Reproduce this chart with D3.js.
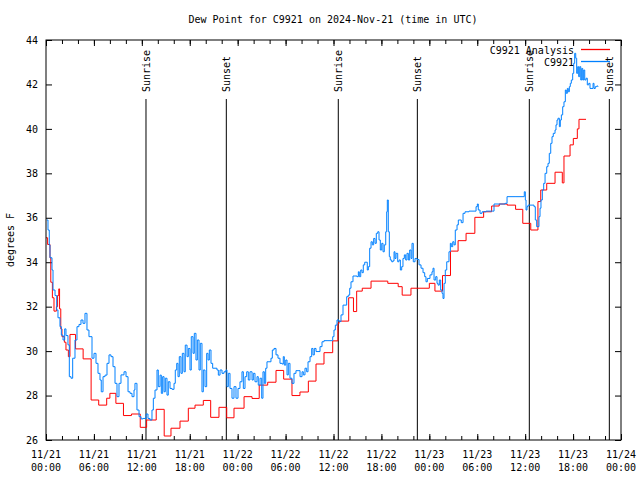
<!DOCTYPE html>
<html>
<head>
<meta charset="utf-8">
<script src="https://cdn.jsdelivr.net/npm/d3@7"></script>
<style>
  html, body { margin: 0; padding: 0; background: #fff; }
  svg { display: block; font-family: "DejaVu Sans Mono", "Liberation Mono", monospace; }
</style>
</head>
<body>
<svg id="chart" width="640" height="480"></svg>
<script>
// ---- data (hours since 2024-11-21 00:00 UTC, dew point °F) ----
const titleText = "Dew Point for C9921 on 2024-Nov-21 (time in UTC)";
const yTickValues = [26, 28, 30, 32, 34, 36, 38, 40, 42, 44];

const obsHours = [0.09,0.25,0.41,0.50,0.75,0.88,1.13,1.34,1.50,1.75,1.92,2.13,2.34,2.50,2.75,2.92,3.13,3.34,3.63,3.88,
4.13,4.38,4.63,4.88,5.13,5.38,5.76,6.01,6.26,6.51,6.76,6.92,7.14,7.39,7.64,7.89,8.14,8.39,8.64,8.89,
9.14,9.39,9.77,10.02,10.27,10.52,10.77,11.02,11.14,11.39,11.65,11.90,12.15,12.52,12.77,13.02,13.27,13.44,13.65,13.90,
14.06,14.28,14.44,14.61,14.78,14.94,15.15,15.31,15.53,15.78,16.03,16.19,16.37,16.53,16.69,16.90,17.07,17.28,17.44,17.66,
17.82,18.03,18.19,18.41,18.57,18.78,18.95,19.16,19.32,19.53,19.70,19.91,20.12,20.29,20.45,20.66,20.87,21.16,21.41,21.58,
21.79,22.04,22.29,22.54,22.66,22.83,23.04,23.29,23.54,23.79,24.04,24.29,24.54,24.71,24.92,25.13,25.33,25.54,25.80,25.96,
26.17,26.42,26.58,26.80,27.01,27.17,27.34,27.51,27.67,27.92,28.17,28.34,28.55,28.80,29.05,29.30,29.55,29.71,29.84,30.02,
30.18,30.34,30.55,30.80,31.05,31.30,31.56,31.81,32.06,32.22,32.43,32.64,32.81,33.06,33.27,33.43,33.60,33.81,34.06,34.31,
34.56,34.81,35.19,35.69,35.90,36.06,36.23,36.44,36.69,36.94,37.19,37.44,37.65,37.85,38.03,38.19,38.44,38.69,38.94,39.11,
39.23,39.41,39.57,39.73,39.91,40.07,40.23,40.36,40.53,40.70,40.86,41.03,41.20,41.36,41.54,41.70,41.86,42.04,42.20,42.36,
42.54,42.66,42.74,42.86,42.99,43.11,43.29,43.45,43.58,43.70,43.83,44.04,44.20,44.37,44.54,44.70,44.87,45.04,45.20,45.37,
45.54,45.71,45.83,45.99,46.21,46.46,46.71,46.96,47.21,47.42,47.58,47.75,48.08,48.33,48.46,48.59,48.80,48.96,49.09,49.25,
49.42,49.59,49.71,49.84,50.00,50.18,50.34,50.46,50.63,50.75,50.93,51.09,51.25,51.47,51.63,51.84,52.00,52.22,52.47,52.97,
53.60,53.85,54.01,54.13,54.35,54.60,55.10,55.94,56.10,57.23,57.48,57.73,58.73,59.73,59.89,60.02,60.11,60.23,60.36,60.61,
60.98,61.11,61.27,61.44,61.61,61.73,61.86,61.98,62.15,62.32,62.49,62.70,62.86,63.02,63.20,63.36,63.52,63.74,63.86,63.99,
64.11,64.28,64.40,64.53,64.70,64.86,65.03,65.15,65.28,65.40,65.53,65.65,65.78,65.95,66.08,66.20,66.33,66.45,66.58,66.70,
66.83,66.96,67.08,67.21,67.33,67.46,67.62,67.78,67.96,68.12,68.37,68.50,68.62,68.78,68.96,69.12];
const obsValues = [35.9,35.45,34.78,34.2,33.65,32.75,32.5,31.85,31.5,31.1,30.72,30.5,31.0,30.7,30.28,28.85,28.78,29.68,30.5,31.1,
31.2,31.4,31.25,31.7,30.95,30.65,29.68,29.9,29.45,29.0,28.7,28.17,28.85,28.92,29.45,29.83,29.75,29.3,28.55,27.95,
28.55,28.93,29.07,28.85,28.17,28.1,27.95,28.25,28.55,27.35,27.05,26.95,26.97,27.17,26.97,26.9,27.35,27.88,28.25,29.15,
28.4,28.92,28.1,28.85,28.17,28.78,28.02,28.62,28.32,28.28,28.55,29.15,29.45,28.85,29.75,29.0,29.9,29.07,30.27,29.75,
30.12,29.15,30.65,29.9,30.8,29.6,30.5,29.15,30.35,28.17,29.15,28.4,29.9,29.6,30.05,29.45,29.23,29.23,29.15,28.92,
29.15,29.0,29.07,29.15,28.4,29.0,28.32,27.88,28.4,27.88,28.32,28.62,29.07,28.32,28.85,29.07,28.7,29.07,28.7,29.0,
28.62,28.85,28.47,28.78,27.88,29.07,28.55,29.23,29.52,29.52,29.68,30.05,30.12,29.83,29.68,29.45,29.42,29.75,29.37,29.6,
28.93,29.45,28.78,28.55,29.0,29.12,29.12,28.85,29.07,28.93,29.23,29.07,29.52,29.75,30.12,29.83,30.12,29.98,29.98,30.2,
30.42,30.47,30.47,30.47,30.65,30.95,31.17,31.4,31.33,31.63,32.07,32.07,32.45,32.52,32.83,33.12,33.38,33.38,33.35,33.57,
33.35,33.65,33.53,33.88,34.0,34.0,33.65,33.8,34.63,34.92,34.78,35.07,34.85,35.3,35.37,35.0,34.55,34.85,34.47,34.78,
35.37,36.27,36.8,35.37,34.25,34.1,34.02,34.06,34.47,34.17,34.4,34.02,34.1,33.65,33.8,34.17,34.33,34.1,34.4,34.1,
34.55,34.17,34.85,34.02,34.17,34.12,33.88,33.73,33.53,33.35,33.12,33.27,33.43,33.57,33.73,33.2,33.35,33.05,32.97,33.2,
32.75,32.6,32.37,33.05,33.65,34.02,34.02,34.47,34.85,34.7,34.92,34.78,35.45,35.68,35.9,35.9,35.78,36.2,36.27,36.3,
36.3,36.5,36.62,36.35,36.2,36.27,36.3,36.3,36.62,36.62,36.65,36.95,36.95,36.95,37.17,36.8,36.35,36.5,36.57,36.57,
36.57,36.5,35.9,35.6,35.6,36.05,36.43,36.8,37.25,37.55,38.0,38.3,38.45,38.9,39.35,39.65,39.8,39.95,40.18,40.4,
40.48,40.1,40.4,40.63,41.0,41.22,41.75,41.6,41.82,41.67,41.9,42.05,42.2,42.5,42.95,43.4,43.18,42.5,42.8,42.35,
42.8,42.2,42.72,42.2,42.65,42.2,42.28,41.98,42.05,41.82,41.82,42.05,41.82,41.9,41.93,41.9];

const anaHours = [0.0,0.2,0.5,0.6,0.8,1.0,1.3,1.45,1.6,1.7,1.85,2.0,2.3,2.5,2.8,3.0,3.7,4.65,5.65,6.6,
7.6,8.0,8.75,9.7,10.7,11.8,12.6,13.8,14.8,15.65,16.78,17.82,18.66,19.7,20.62,21.66,22.63,23.54,24.8,25.8,
26.7,27.76,28.8,29.76,30.8,31.8,32.85,33.81,34.81,35.9,36.55,36.7,37.9,38.5,38.9,39.6,40.7,42.8,44.1,44.6,
45.7,48.0,48.7,49.65,50.65,51.6,52.6,53.7,54.8,55.8,56.75,57.75,58.8,59.7,60.7,61.6,61.95,62.7,63.74,64.65,
64.86,65.62,66.03,66.53,66.74,67.62];
const anaValues = [35.1,34.8,34.2,33.1,32.4,31.8,32.0,32.5,32.8,31.9,31.0,30.65,30.4,30.05,29.75,30.75,30.1,29.65,27.8,27.57,
27.88,28.1,27.65,27.1,27.17,26.57,26.9,27.38,26.18,26.53,26.85,27.43,27.57,27.78,27.02,27.47,27.0,27.43,27.95,27.87,
28.47,28.6,29.13,28.74,28.0,28.16,28.65,29.42,29.93,30.46,31.25,31.35,32.4,31.78,32.7,32.83,33.15,33.05,32.9,32.52,
32.83,33.05,32.7,33.4,34.5,34.97,35.3,36.02,36.27,36.53,36.62,36.57,36.38,35.75,35.45,36.73,37.25,37.55,38.05,37.57,
38.78,39.28,39.57,40.0,40.43,40.43];

const sunLabels = ["Sunrise","Sunset","Sunrise","Sunset","Sunrise","Sunset"];
const sunHours = [12.52, 22.58, 36.6, 46.5, 60.52, 70.54];

const seriesNames = ["C9921 Analysis", "C9921"];
const seriesColors = ["#ff0000", "#0080ff"];

// ---- chart ----
const HOUR = 3600e3;
const t0 = Date.UTC(2024, 10, 21, 0, 0);
const toDate = h => new Date(t0 + h * HOUR);

const L = 46, R = 621, T = 40, B = 440;
const svg = d3.select("#chart");
const x = d3.scaleUtc().domain([toDate(0), toDate(72)]).range([L, R]);
const y = d3.scaleLinear().domain([26, 44]).range([B, T]);

svg.append("rect").attr("width", 640).attr("height", 480).attr("fill", "#fff");

// title
svg.append("text").attr("x", 333).attr("y", 23).attr("text-anchor", "middle")
  .attr("font-size", 10).text(titleText);

// y label
svg.append("text").attr("transform", "translate(14,240) rotate(-90)")
  .attr("text-anchor", "middle").attr("font-size", 10).text("degrees F");

// axes
const minorAxisB = d3.axisBottom(x).ticks(d3.utcHour.every(2)).tickSize(-4).tickFormat("");
const majorAxisB = d3.axisBottom(x).ticks(d3.utcHour.every(6)).tickSize(-6).tickFormat("");
const minorAxisT = d3.axisTop(x).ticks(d3.utcHour.every(2)).tickSize(-4).tickFormat("");
const majorAxisT = d3.axisTop(x).ticks(d3.utcHour.every(6)).tickSize(-6).tickFormat("");
[[minorAxisB, B], [majorAxisB, B], [minorAxisT, T], [majorAxisT, T]].forEach(([ax, yy]) => {
  const g = svg.append("g").attr("transform", `translate(0,${yy})`).call(ax);
  g.select(".domain").remove();
  g.selectAll("line").attr("stroke", "#000");
});
const yl = svg.append("g").attr("transform", `translate(${L},0)`)
  .call(d3.axisLeft(y).tickValues(yTickValues).tickSize(-6).tickPadding(8).tickFormat(d3.format("d")));
yl.select(".domain").remove();
yl.selectAll("text").attr("font-size", 10).attr("font-family", "DejaVu Sans Mono").attr("fill", "#000");
const yr = svg.append("g").attr("transform", `translate(${R},0)`)
  .call(d3.axisRight(y).tickValues(yTickValues).tickSize(-6).tickFormat(""));
yr.select(".domain").remove();

// x labels (two lines)
const fmtD = d3.utcFormat("%m/%d"), fmtT = d3.utcFormat("%H:%M");
const xl = svg.append("g").selectAll("text").data(x.ticks(d3.utcHour.every(6))).join("text")
  .attr("x", d => x(d)).attr("text-anchor", "middle").attr("font-size", 10);
xl.append("tspan").attr("x", d => x(d)).attr("y", 458).text(d => fmtD(d));
xl.append("tspan").attr("x", d => x(d)).attr("y", 471).text(d => fmtT(d));

// sunrise / sunset
sunHours.forEach((h, i) => {
  const xx = x(toDate(h));
  svg.append("line").attr("x1", xx).attr("x2", xx).attr("y1", 99).attr("y2", B)
    .attr("stroke", "#000").attr("stroke-width", 1);
  svg.append("text").attr("transform", `translate(${xx + 4},92) rotate(-90)`)
    .attr("font-size", 10).attr("text-anchor", "start").text(sunLabels[i]);
});

// series
const line = d3.line().curve(d3.curveStepAfter).x(d => x(toDate(d[0]))).y(d => y(d[1]));
const ana = anaHours.map((h, i) => [h, anaValues[i]]);
const obs = obsHours.map((h, i) => [h, obsValues[i]]);
svg.append("path").datum(ana).attr("d", line).attr("fill", "none")
  .style("stroke", seriesColors[0]).attr("stroke-width", 1);
svg.append("path").datum(obs).attr("d", line).attr("fill", "none")
  .style("stroke", seriesColors[1]).attr("stroke-width", 1);

// border
svg.append("rect").attr("x", L).attr("y", T).attr("width", R - L).attr("height", B - T)
  .attr("fill", "none").attr("stroke", "#000").attr("stroke-width", 1);

// legend
const legend = svg.append("g").attr("class", "legend");
seriesNames.forEach((n, i) => {
  const yy = 50 + i * 12;
  legend.append("text").attr("x", 574).attr("y", yy + 3.5).attr("text-anchor", "end")
    .attr("font-size", 10).text(n);
  legend.append("path").attr("d", `M581,${yy - 0.5}H610`)
    .attr("fill", "none").style("stroke", seriesColors[i]).style("stroke-width", "1.3px");
});
</script>
</body>
</html>
